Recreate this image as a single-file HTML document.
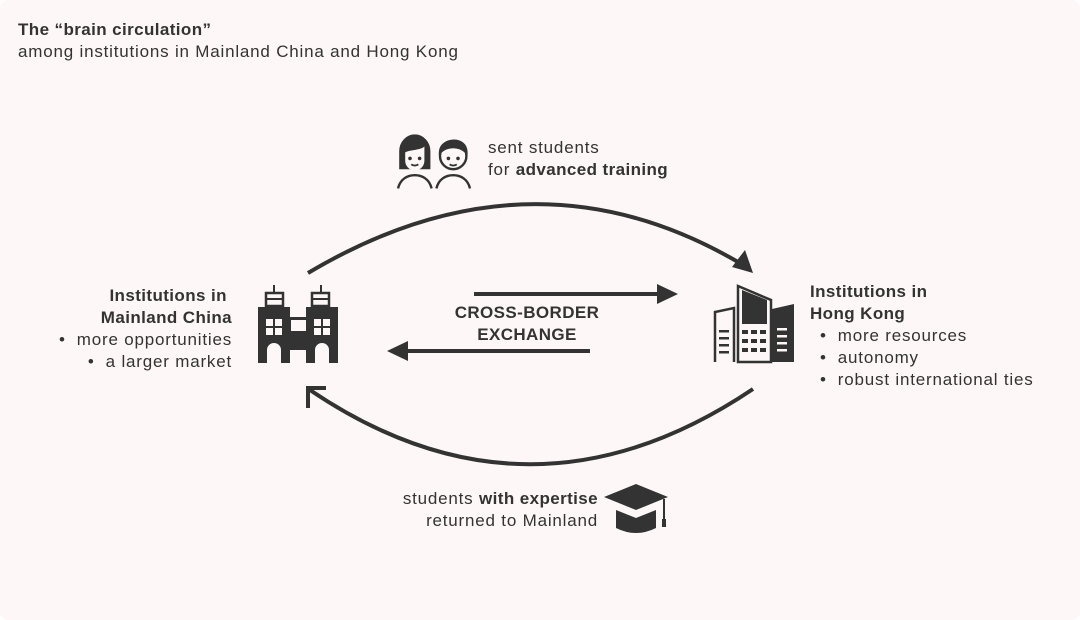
<!DOCTYPE html>
<html><head><meta charset="utf-8"><style>
html,body{margin:0;padding:0;background:#fff;}
#c{position:relative;width:1080px;height:620px;background:#fdf7f7;border-radius:8px;overflow:hidden;font-family:"Liberation Sans",sans-serif;color:#333;}
.t{position:absolute;font-size:17px;letter-spacing:0.8px;line-height:22px;white-space:nowrap;}
b{font-weight:bold;letter-spacing:0.4px;}
svg{position:absolute;left:0;top:0;}
</style></head><body><div id="c">
<svg width="1080" height="620" viewBox="0 0 1080 620">
<path d="M308,273 Q530,141 738,262" fill="none" stroke="#333" stroke-width="4"/>
<path d="M753,273 L732,267 L745,250 Z" fill="#333"/>
<path d="M753,389 Q530,539 310,390" fill="none" stroke="#333" stroke-width="4"/>
<path d="M326,388 L308,388 L308,408" fill="none" stroke="#333" stroke-width="4"/>
<line x1="474" y1="294" x2="660" y2="294" stroke="#333" stroke-width="4"/>
<path d="M678,294 L657,284 L657,304 Z" fill="#333"/>
<line x1="590" y1="351" x2="405" y2="351" stroke="#333" stroke-width="4"/>
<path d="M387,351 L408,341 L408,361 Z" fill="#333"/>
<g fill="#333">
<rect x="273" y="285" width="2" height="9"/><rect x="320" y="285" width="2" height="9"/>
<path d="M266,293h17v13h-17z M312,293h17v13h-17z" fill="none" stroke="#333" stroke-width="2.5"/>
<line x1="266" y1="299" x2="283" y2="299" stroke="#333" stroke-width="2"/>
<line x1="312" y1="299" x2="329" y2="299" stroke="#333" stroke-width="2"/>
<path d="M258,307h32v10h16v-10h32v56h-32v-13h-16v13h-32z"/>
</g>
<g fill="#fdf7f7">
<rect x="266" y="319" width="7" height="7"/><rect x="275" y="319" width="7" height="7"/><rect x="266" y="328" width="7" height="7"/><rect x="275" y="328" width="7" height="7"/>
<rect x="314" y="319" width="7" height="7"/><rect x="323" y="319" width="7" height="7"/><rect x="314" y="328" width="7" height="7"/><rect x="323" y="328" width="7" height="7"/>
<rect x="291" y="320" width="15" height="11"/>
<rect x="290" y="351" width="16" height="12"/>
<path d="M267,363v-13a7,7 0 0 1 14,0v13z M315,363v-13a7,7 0 0 1 14,0v13z"/>
</g>
<g stroke="#333" stroke-width="2.5" fill="none">
<path d="M715,362v-50l19,-4v54"/>
<path d="M738,362v-76l33,14v62z"/>
</g>
<path d="M772,362v-53l22,-5v58z" fill="#333"/>
<path d="M742,298v26h25v-24l-25,-10z" fill="#333"/>
<g fill="#333">
<rect x="719" y="330" width="10" height="2.5"/><rect x="719" y="337" width="10" height="2.5"/><rect x="719" y="344" width="10" height="2.5"/><rect x="719" y="351" width="10" height="2.5"/>
<rect x="742" y="330" width="6" height="4"/><rect x="751" y="330" width="6" height="4"/><rect x="760" y="330" width="6" height="4"/>
<rect x="742" y="339" width="6" height="4"/><rect x="751" y="339" width="6" height="4"/><rect x="760" y="339" width="6" height="4"/>
<rect x="742" y="348" width="6" height="4"/><rect x="751" y="348" width="6" height="4"/><rect x="760" y="348" width="6" height="4"/>
</g>
<g fill="#fdf7f7">
<rect x="777" y="328" width="10" height="2.5"/><rect x="777" y="335" width="10" height="2.5"/><rect x="777" y="342" width="10" height="2.5"/><rect x="777" y="349" width="10" height="2.5"/>
</g>
<g transform="translate(398,132) scale(1.2) translate(-400,-136)">
<g stroke="#333" stroke-width="2" fill="none">
<path d="M402,152a12,13 0 1 1 24,0v14h-24z" fill="#333"/>
<path d="M406,153c3,-2 14,-2 16,-5v12a8,8 0 0 1 -16,0z" fill="#fdf7f7" stroke="none"/>
<path d="M400,183c2,-8 8,-11 14,-11s12,3 14,11"/>
<circle cx="446" cy="156" r="11"/>
<path d="M435,153c0,-12 22,-14 22,0c-6,-6 -16,-6 -22,0z" fill="#333"/>
<path d="M432,183c2,-8 8,-11 14,-11s12,3 14,11"/>
</g>
<g fill="#333"><circle cx="410" cy="158" r="1.5"/><circle cx="418" cy="158" r="1.5"/><circle cx="442" cy="158" r="1.5"/><circle cx="450" cy="158" r="1.5"/></g>
<path d="M411,163q3,2 6,0M443,163q3,2 6,0" stroke="#333" stroke-width="1.5" fill="none"/>
</g>
<path d="M636,484l32,13l-32,13l-32,-13z" fill="#333"/>
<path d="M616,510v18q20,10 40,0v-18l-20,8z" fill="#333"/>
<line x1="664" y1="499" x2="664" y2="520" stroke="#333" stroke-width="2"/>
<rect x="662" y="519" width="4" height="8" fill="#333"/>
</svg>
<div class="t" style="left:18px;top:19px;font-size:17px;"><b>The “brain circulation”</b></div>
<div class="t" style="left:18px;top:41px;">among institutions in Mainland China and Hong Kong</div>
<div class="t" style="left:488px;top:137px;">sent students</div>
<div class="t" style="left:488px;top:159px;">for <b>advanced training</b></div>
<div class="t" style="right:848px;top:285px;text-align:right;"><b>Institutions in&nbsp;</b><br><b>Mainland China</b><br>•&nbsp; more opportunities<br>•&nbsp; a larger market</div>
<div class="t" style="left:810px;top:281px;"><b>Institutions in</b><br><b>Hong Kong</b></div>
<div class="t" style="left:820px;top:325px;">•&nbsp; more resources<br>•&nbsp; autonomy<br>•&nbsp; robust international ties</div>
<div class="t" style="left:417px;top:302px;width:220px;text-align:center;"><b>CROSS-BORDER<br>EXCHANGE</b></div>
<div class="t" style="right:482px;top:488px;text-align:right;">students <b>with expertise</b><br>returned to Mainland</div>
</div></body></html>
